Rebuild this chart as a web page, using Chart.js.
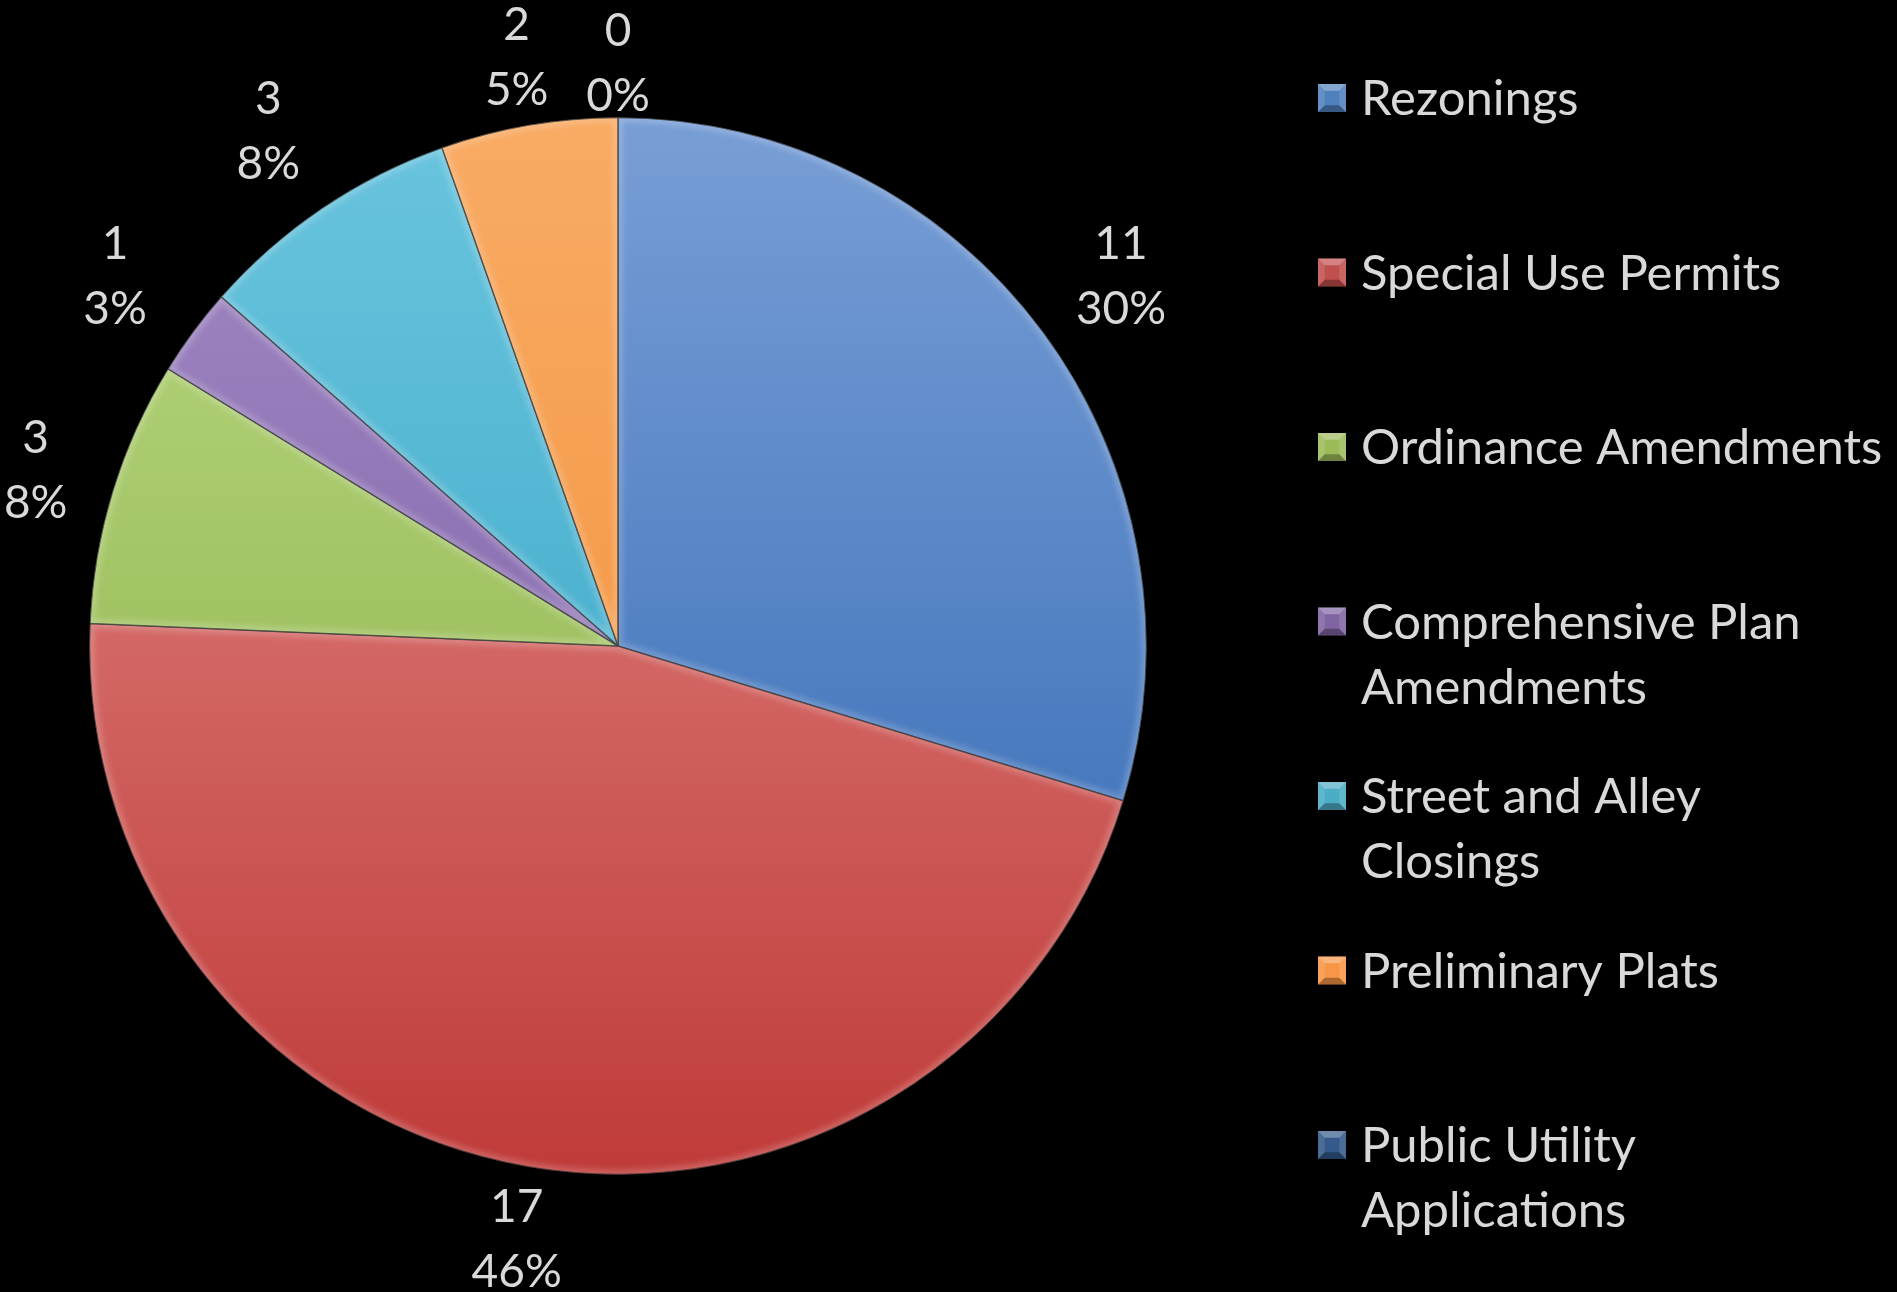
<!DOCTYPE html>
<html><head><meta charset="utf-8">
<script src="https://cdn.jsdelivr.net/npm/chart.js@4.4.1/dist/chart.umd.min.js"></script>
<style>html,body{margin:0;padding:0;background:#000;overflow:hidden}canvas{display:block}</style>
</head><body>
<canvas id="c" width="1897" height="1292"></canvas>
<script>
const categories = ['Rezonings', 'Special Use Permits', 'Ordinance Amendments', ['Comprehensive Plan', 'Amendments'], ['Street and Alley', 'Closings'], 'Preliminary Plats', ['Public Utility', 'Applications']];
const counts = [11, 17, 3, 1, 3, 2, 0];
const baseColors = ['#4F81BD', '#C0504D', '#9BBB59', '#8064A2', '#4BACC6', '#F79646', '#34598A'];
const lightColors = ['#789ED6', '#E6928F', '#B9D883', '#A38AC4', '#6AC5DE', '#F9AB64', '#4A6FA0'];
const darkColors = ['#2C64B0', '#BF3B39', '#88AC40', '#72559E', '#2E9EC0', '#F08A30', '#24446E'];

const TEXT = '#D9D9D9';
const total = counts.reduce((a, b) => a + b, 0);

function sliceFill(ctx) {
  const chart = ctx.chart, area = chart.chartArea, i = ctx.dataIndex;
  if (!area) return baseColors[i];
  const g = chart.ctx.createLinearGradient(0, area.top, 0, area.bottom);
  g.addColorStop(0, lightColors[i]);
  g.addColorStop(1, darkColors[i]);
  return g;
}

const bevel = {
  id: 'bevel',
  afterDatasetsDraw(chart) {
    const c = chart.ctx;
    chart.getDatasetMeta(0).data.forEach((arc) => {
      const p = arc.getProps(['x', 'y', 'startAngle', 'endAngle', 'outerRadius'], true);
      if (p.endAngle - p.startAngle <= 0) return;
      c.save();
      c.beginPath();
      c.moveTo(p.x, p.y);
      c.arc(p.x, p.y, p.outerRadius, p.startAngle, p.endAngle);
      c.closePath();
      c.clip();
      c.filter = 'blur(3px)';
      c.lineWidth = 9;
      c.strokeStyle = 'rgba(255,255,255,0.22)';
      c.stroke();
      c.filter = 'none';
      c.lineWidth = 1.5;
      c.strokeStyle = 'rgba(40,40,40,0.55)';
      c.stroke();
      c.restore();
    });
  }
};

const labelsPlugin = {
  id: 'outLabels',
  afterDraw(chart) {
    const c = chart.ctx;
    c.save();
    c.font = '46px Lato';
    c.fillStyle = TEXT;
    c.textAlign = 'center';
    c.textBaseline = 'alphabetic';
    chart.getDatasetMeta(0).data.forEach((arc, i) => {
      const p = arc.getProps(['x', 'y', 'startAngle', 'endAngle', 'outerRadius'], true);
      const a = (p.startAngle + p.endAngle) / 2;
      const d = p.outerRadius + 57 + 42 * Math.abs(Math.sin(2 * a));
      const cx = p.x + d * Math.cos(a), cy = p.y + d * Math.sin(a);
      const v = chart.data.datasets[0].data[i];
      c.fillText(String(v), cx, cy - 15);
      c.fillText(Math.round(v / total * 100) + '%', cx, cy + 50);
    });
    c.restore();
  }
};

function drawMarker(c, x, y, s, i) {
  c.fillStyle = baseColors[i];
  c.fillRect(x, y, s, s);
  const b = s * 0.24;
  c.fillStyle = 'rgba(255,255,255,0.30)';
  c.beginPath(); c.moveTo(x, y); c.lineTo(x + s, y); c.lineTo(x + s - b, y + b); c.lineTo(x + b, y + b); c.closePath(); c.fill();
  c.fillStyle = 'rgba(255,255,255,0.12)';
  c.beginPath(); c.moveTo(x, y); c.lineTo(x + b, y + b); c.lineTo(x + b, y + s - b); c.lineTo(x, y + s); c.closePath(); c.fill();
  c.beginPath(); c.moveTo(x + s, y); c.lineTo(x + s - b, y + b); c.lineTo(x + s - b, y + s - b); c.lineTo(x + s, y + s); c.closePath(); c.fill();
  c.fillStyle = 'rgba(0,0,0,0.30)';
  c.beginPath(); c.moveTo(x, y + s); c.lineTo(x + s, y + s); c.lineTo(x + s - b, y + s - b); c.lineTo(x + b, y + s - b); c.closePath(); c.fill();
}

const legendPlugin = {
  id: 'sideLegend',
  afterDraw(chart) {
    const c = chart.ctx;
    c.save();
    c.font = '49px Lato';
    c.textAlign = 'left';
    c.textBaseline = 'alphabetic';
    chart.data.labels.forEach((lab, i) => {
      const base = 115 + i * 174.5;
      drawMarker(c, 1318, base - 31, 28, i);
      c.fillStyle = TEXT;
      const lines = Array.isArray(lab) ? lab : [lab];
      lines.forEach((t, k) => c.fillText(t, 1361, base + k * 65));
    });
    c.restore();
  }
};

new Chart(document.getElementById('c'), {
  type: 'pie',
  data: {
    labels: categories,
    datasets: [{
      data: counts,
      backgroundColor: sliceFill,
      borderColor: 'rgba(40,40,40,0.6)',
      borderWidth: 1
    }]
  },
  options: {
    responsive: false,
    devicePixelRatio: 1,
    animation: false,
    layout: { padding: { left: 89, top: 117, right: 750, bottom: 117 } },
    plugins: { legend: { display: false }, tooltip: { enabled: false } }
  },
  plugins: [bevel, labelsPlugin, legendPlugin]
});
</script>
</body></html>
